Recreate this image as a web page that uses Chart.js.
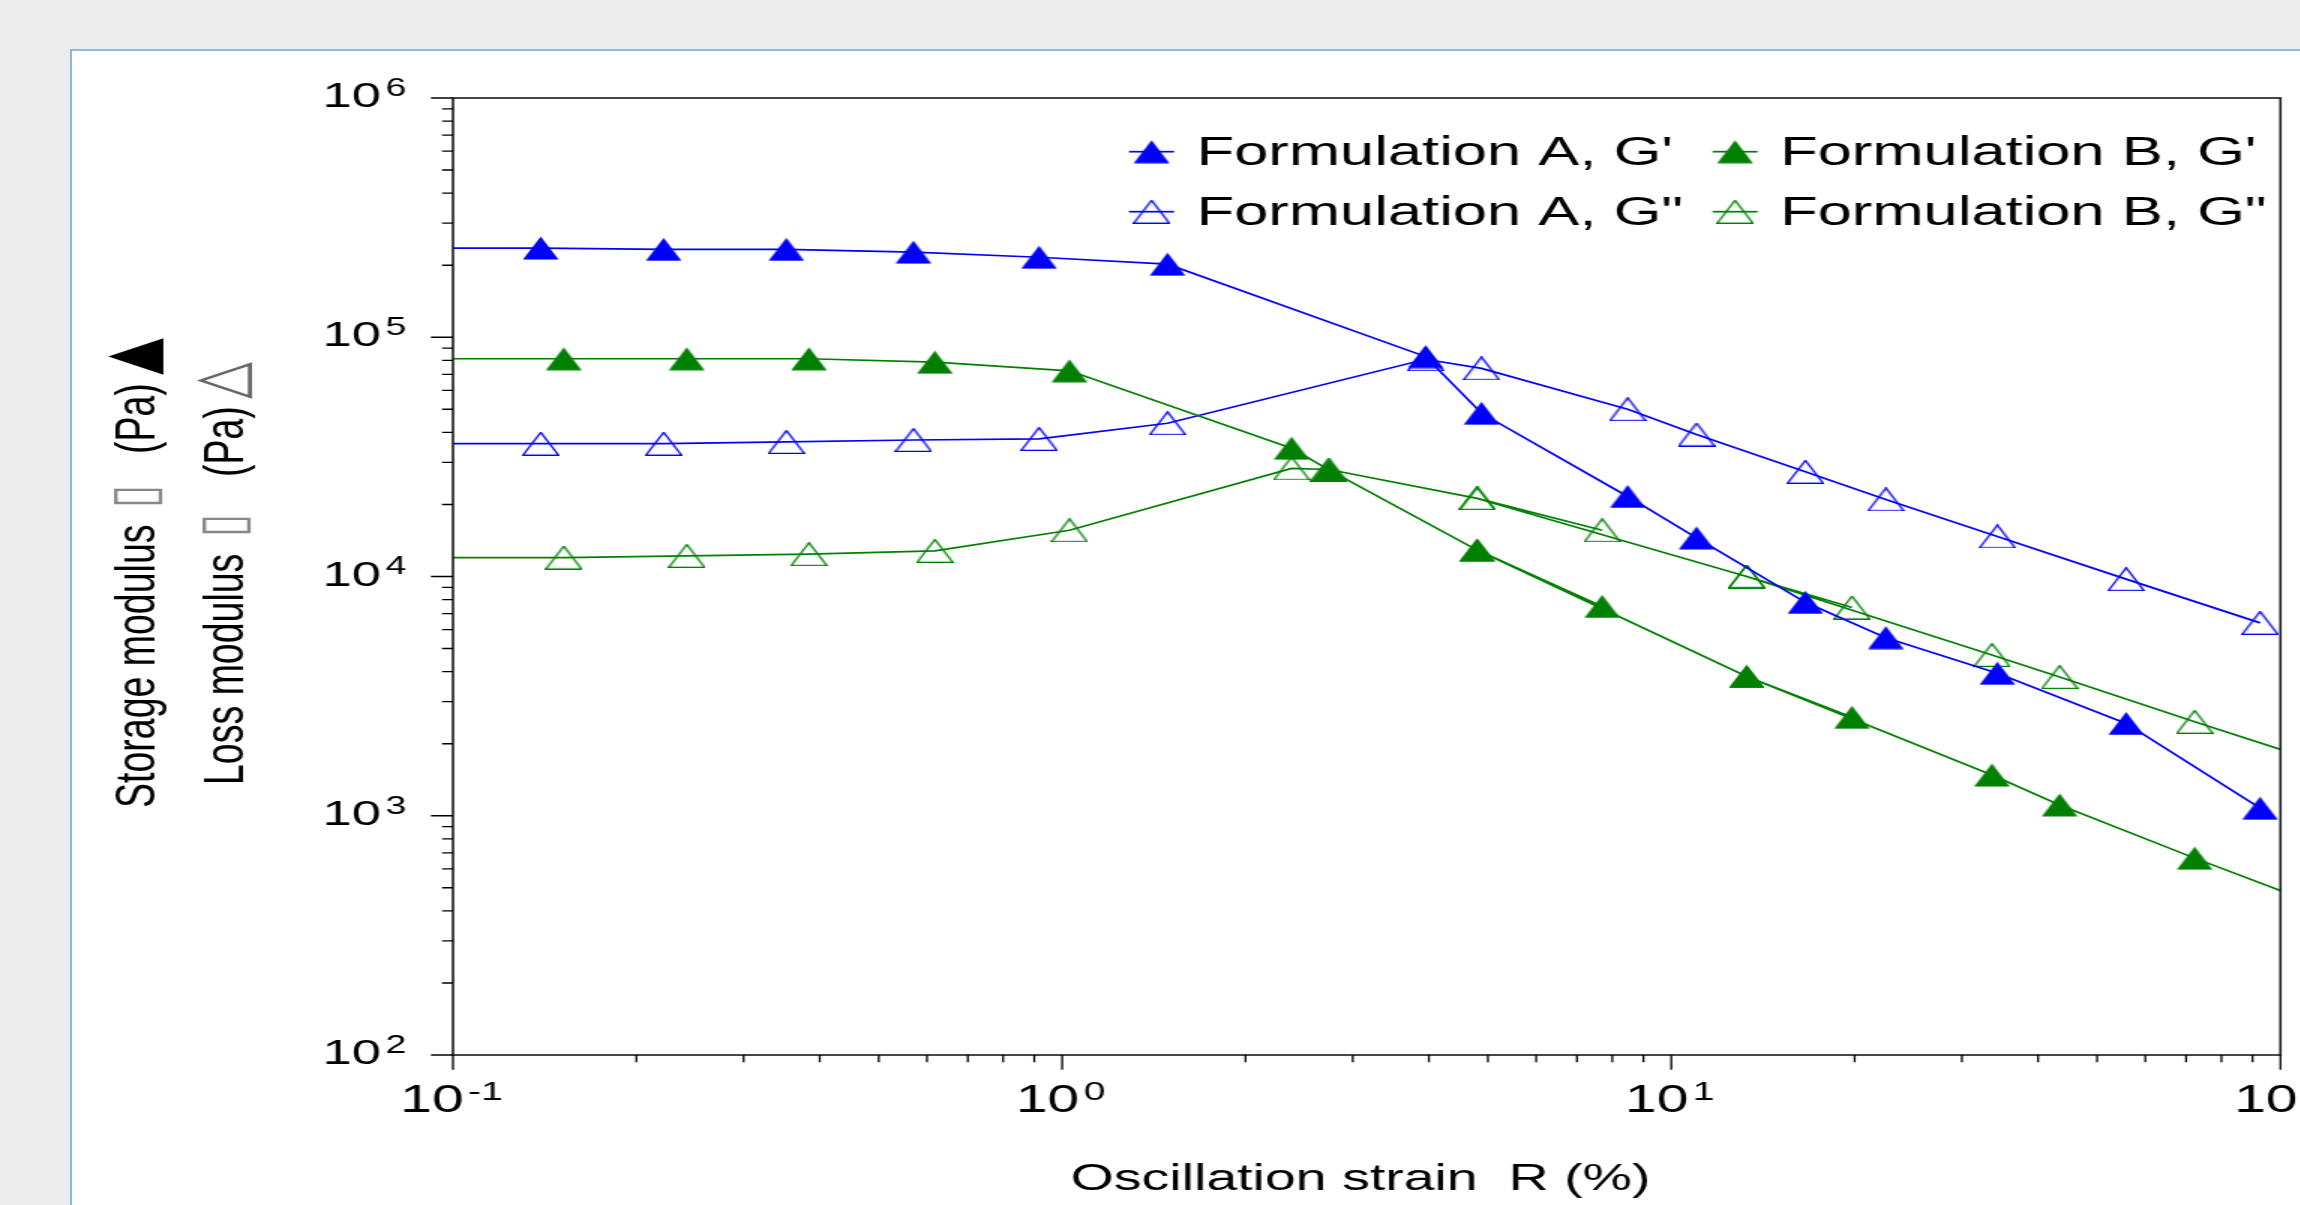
<!DOCTYPE html>
<html>
<head>
<meta charset="utf-8">
<script src="https://cdn.jsdelivr.net/npm/chart.js@4.4.1/dist/chart.umd.min.js"></script>
<style>
  html, body { margin: 0; padding: 0; width: 2300px; height: 1205px; overflow: hidden; background: #ececec; }
  #panel { position: absolute; left: 70px; top: 49px; width: 2300px; height: 1300px; background: #fff;
           border-left: 2px solid #8cb8e8; border-top: 2px solid #8cb8e8; }
  #chart { position: absolute; left: 72px; top: 51px; }
</style>
</head>
<body>
<div id="panel"></div>
<!-- drawn at 1486 wide and stretched 1.5x sideways, like the original figure -->
<canvas id="chart" width="1486" height="1154" style="width:2229px;height:1154px"></canvas>
<script>
// oscillation strain (%) and moduli (Pa)
const strainA = [0.088, 0.1393, 0.2217, 0.3525, 0.570, 0.9165, 1.489, 3.95, 4.88, 8.48, 11.0, 16.6, 22.5, 34.3, 55.8, 92.6];
const storageA = [236000, 236000, 233000, 233000, 227000, 216000, 202000, 83000, 48100, 21600, 14500, 7800, 5550, 3940, 2430, 1075];
const lossA = [35900, 35900, 35900, 36500, 37200, 37600, 43700, 80900, 74100, 50000, 39200, 27400, 21000, 14700, 9750, 6400];

// formulation B runs back on itself twice (4.8 and 13.3)
const strainB = [0.09, 0.152, 0.242, 0.384, 0.618, 1.028, 2.38, 2.74, 4.80, 7.70, 4.80, 13.3, 19.8, 13.3, 33.6, 43.4, 72.3, 120];
const storageB = [81300, 81300, 81300, 81300, 78700, 72400, 34400, 27900, 12900, 7500, 12900, 3820, 2580, 3820, 1480, 1110, 665, 408];
const lossB = [12000, 12000, 12200, 12400, 12800, 15600, 28300, 28000, 21200, 15600, 21200, 10000, 7420, 10000, 4700, 3800, 2470, 1630];

const xTicks = [0.1, 1, 10, 100];
const xTickExp = ['-1', '0', '1', '2'];
const yTicks = [100, 1000, 10000, 100000, 1000000];
const yTickExp = ['2', '3', '4', '5', '6'];

const xTitle = 'Oscillation strain  R (%)';
const yTitleStorage = 'Storage modulus';
const yTitleLoss = 'Loss modulus';

const BLUE = '#0000ff';
const GREEN = '#008000';
const FONT = '"Liberation Sans", Arial, sans-serif';

function makeTriangle(color, filled) {
    const c = document.createElement('canvas');
    c.width = 25;
    c.height = 24;
    const g = c.getContext('2d');
    g.beginPath();
    g.moveTo(12.5, 0.6);
    g.lineTo(24.4, 23.4);
    g.lineTo(0.6, 23.4);
    g.closePath();
    if (filled) {
        g.fillStyle = color;
        g.fill();
    } else {
        g.strokeStyle = color;
        g.lineWidth = 1.3;
        g.stroke();
    }
    return c;
}

function points(xs, ys) {
    return xs.map((x, i) => ({ x: x, y: ys[i] }));
}

function series(label, xs, ys, color, filled) {
    return {
        label: label,
        data: points(xs, ys),
        showLine: true,
        borderColor: color,
        borderWidth: 1.7,
        pointStyle: makeTriangle(color, filled),
        pointRadius: 12,
        clip: 0
    };
}

// superscript tick label: "10" then a small raised exponent
function drawPower(ctx, exp, x, baseY, big, small, align) {
    const gap = 3;
    ctx.font = big + 'px ' + FONT;
    const w10 = ctx.measureText('10').width;
    ctx.font = small + 'px ' + FONT;
    const wExp = ctx.measureText(exp).width;
    let left = x;
    if (align === 'center') left = x - (w10 + gap + wExp) / 2;
    if (align === 'right') left = x - w10;
    ctx.textAlign = 'left';
    ctx.textBaseline = 'alphabetic';
    ctx.font = big + 'px ' + FONT;
    ctx.fillText('10', left, baseY);
    ctx.font = small + 'px ' + FONT;
    ctx.fillText(exp, left + w10 + gap, baseY - big * 0.32);
}

function drawRotated(ctx, baseX, startY, parts) {
    ctx.save();
    ctx.translate(baseX, startY);
    ctx.rotate(-Math.PI / 2);
    ctx.textAlign = 'left';
    ctx.textBaseline = 'alphabetic';
    parts.forEach(p => {
        ctx.font = p.font;
        ctx.fillStyle = p.color;
        ctx.fillText(p.text, p.at, 0);
    });
    ctx.restore();
}

const decor = {
    id: 'decor',
    afterDraw(chart) {
        const ctx = chart.ctx;
        const area = chart.chartArea;
        const xs = chart.scales.x;
        const ys = chart.scales.y;
        ctx.save();

        // frame round the plot
        ctx.strokeStyle = '#1a1a1a';
        ctx.lineWidth = 1.6;
        ctx.strokeRect(area.left, area.top, area.right - area.left, area.bottom - area.top);

        // tick marks, outside the frame
        ctx.strokeStyle = '#000';
        ctx.lineWidth = 1.3;
        ctx.beginPath();
        yTicks.forEach((v, i) => {
            const y = ys.getPixelForValue(v);
            ctx.moveTo(area.left - 14.7, y);
            ctx.lineTo(area.left, y);
            if (i < yTicks.length - 1) {
                for (let m = 2; m < 10; m++) {
                    const ym = ys.getPixelForValue(v * m);
                    ctx.moveTo(area.left - 7.3, ym);
                    ctx.lineTo(area.left, ym);
                }
            }
        });
        xTicks.forEach((v, i) => {
            const x = xs.getPixelForValue(v);
            ctx.moveTo(x, area.bottom);
            ctx.lineTo(x, area.bottom + 14.7);
            if (i < xTicks.length - 1) {
                for (let m = 2; m < 10; m++) {
                    const xm = xs.getPixelForValue(v * m);
                    ctx.moveTo(xm, area.bottom);
                    ctx.lineTo(xm, area.bottom + 7.3);
                }
            }
        });
        ctx.stroke();

        // tick labels
        ctx.fillStyle = '#000';
        yTicks.forEach((v, i) => {
            const y = ys.getPixelForValue(v);
            drawPower(ctx, yTickExp[i], 206, y + 9, 35, 25, 'right');
        });
        xTicks.forEach((v, i) => {
            const x = xs.getPixelForValue(v);
            drawPower(ctx, xTickExp[i], x - 1, 1061, 38, 26, 'center');
        });

        // x title
        ctx.font = '37px ' + FONT;
        ctx.textAlign = 'center';
        ctx.textBaseline = 'alphabetic';
        ctx.fillText(xTitle, 859, 1139);

        // y title, two rotated lines
        const tf = '37.5px ' + FONT;
        const sym = '48px "DejaVu Sans"';
        const box = '42px "DejaVu Sans"';
        drawRotated(ctx, 55, 757, [
            { text: yTitleStorage, at: 0, font: tf, color: '#000' },
            { text: '\u25AF', at: 300, font: box, color: '#888' },
            { text: '(Pa)', at: 354, font: tf, color: '#000' },
            { text: '\u25B2', at: 433, font: sym, color: '#000' }
        ]);
        drawRotated(ctx, 114, 734, [
            { text: yTitleLoss, at: 0, font: tf, color: '#000' },
            { text: '\u25AF', at: 248, font: box, color: '#888' },
            { text: '(Pa)', at: 308, font: tf, color: '#000' },
            { text: '\u25B3', at: 386, font: sym, color: '#666' }
        ]);

        // legend inside the plot, 2 x 2
        const cols = [719.7, 1108.7];
        const rows = [100.7, 160.7];
        const order = [[0, 1], [2, 3]];
        order.forEach((row, r) => {
            row.forEach((di, c) => {
                const ds = chart.data.datasets[di];
                const cx = cols[c];
                const cy = rows[r];
                const img = ds.pointStyle;
                ctx.strokeStyle = ds.borderColor;
                ctx.lineWidth = 1.7;
                ctx.beginPath();
                ctx.moveTo(cx - 15, cy);
                ctx.lineTo(cx + 15, cy);
                ctx.stroke();
                ctx.drawImage(img, cx - img.width / 2, cy - img.height / 2);
                ctx.fillStyle = '#000';
                ctx.font = '41px ' + FONT;
                ctx.textAlign = 'left';
                ctx.fillText(ds.label, cx + 30, cy + 13.3);
            });
        });
        ctx.restore();
    }
};

new Chart(document.getElementById('chart'), {
    type: 'scatter',
    data: {
        datasets: [
            series("Formulation A, G'", strainA, storageA, BLUE, true),
            series("Formulation B, G'", strainB, storageB, GREEN, true),
            series('Formulation A, G"', strainA, lossA, BLUE, false),
            series('Formulation B, G"', strainB, lossB, GREEN, false)
        ]
    },
    options: {
        responsive: false,
        devicePixelRatio: 1,
        animation: false,
        events: [],
        layout: { padding: { top: 47, right: 8.7, left: 0, bottom: 0 } },
        plugins: { legend: { display: false }, tooltip: { enabled: false } },
        scales: {
            x: {
                type: 'logarithmic',
                min: 0.1,
                max: 100,
                grid: { display: false },
                border: { display: false },
                ticks: { display: false },
                afterFit: s => { s.height = 150; }
            },
            y: {
                type: 'logarithmic',
                min: 100,
                max: 1000000,
                grid: { display: false },
                border: { display: false },
                ticks: { display: false },
                afterFit: s => { s.width = 254; }
            }
        }
    },
    plugins: [decor]
});
</script>
</body>
</html>
